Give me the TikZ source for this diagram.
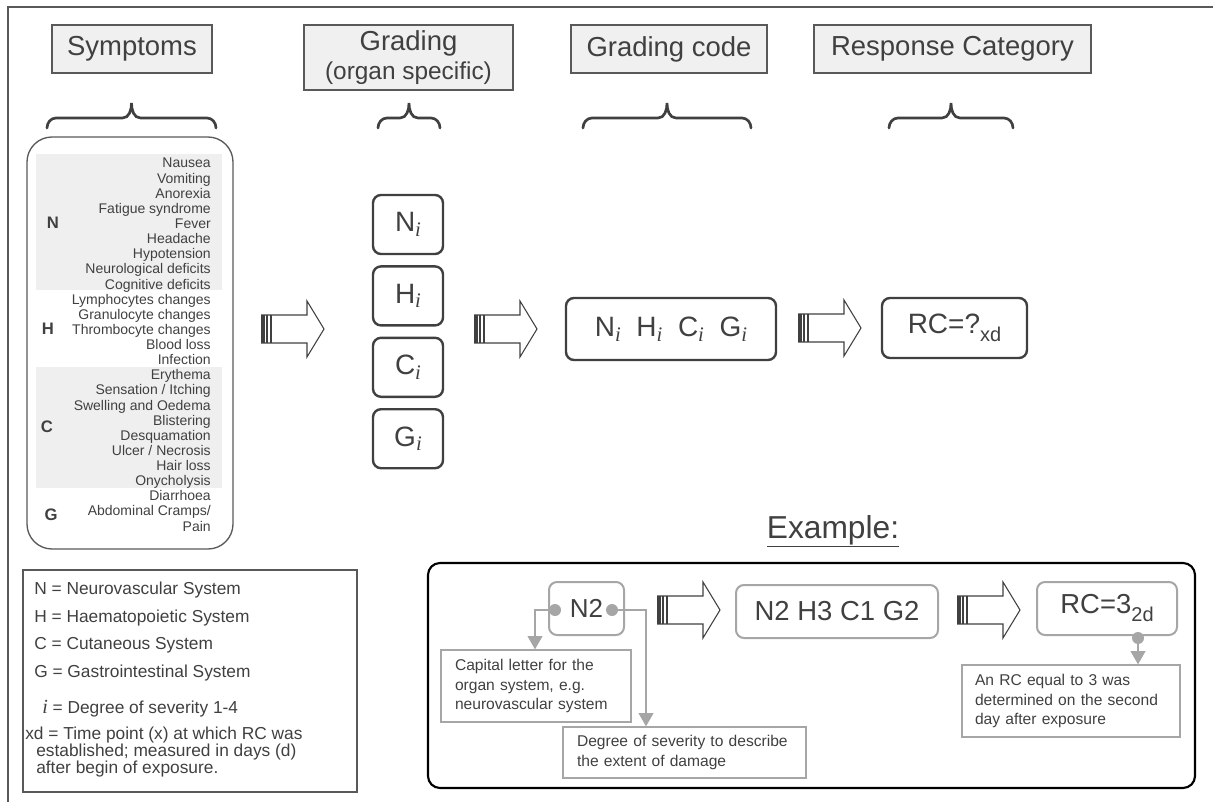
\documentclass[tikz,border=0pt]{standalone}
\usepackage{fontspec}
\setmainfont{Liberation Sans}
\newfontfamily\serifit{Liberation Serif}
\usetikzlibrary{positioning}
\usetikzlibrary{arrows.meta}

\definecolor{ink}{HTML}{404040}
\definecolor{framegray}{HTML}{595959}
\definecolor{headfill}{HTML}{F0F0F0}
\definecolor{bandfill}{HTML}{EFEFEF}
\definecolor{exgray}{HTML}{A6A6A6}

\newcommand{\subtxt}[1]{\raisebox{-6pt}{\fontsize{15}{15}\selectfont #1}}
\newcommand{\subi}{\raisebox{-3.5pt}{\fontsize{15.5}{15.5}\selectfont\serifit\itshape i}}

\begin{document}
\begin{tikzpicture}[x=0.75pt,y=0.75pt,
    every node/.style={text=ink},
    headbox/.style={draw=framegray, fill=headfill, line width=1pt, inner sep=0,
      font=\fontsize{20.6}{21.75}\selectfont},
    gradebox/.style={draw=ink, line width=1.8pt, rounded corners=6pt, inner sep=0,
      minimum width=52.5pt, minimum height=44.25pt, font=\fontsize{21}{24}\selectfont},
    codebox/.style={draw=ink, line width=1.8pt, rounded corners=6pt, inner sep=0,
      font=\fontsize{21}{24}\selectfont},
    symtxt/.style={anchor=base east, inner sep=0, font=\fontsize{10.5}{12}\selectfont},
    grp/.style={inner sep=0, font=\bfseries\fontsize{12.5}{14}\selectfont},
    legtxt/.style={anchor=base west, inner sep=0, font=\fontsize{13}{15}\selectfont},
    exbox/.style={draw=exgray, line width=1.5pt, rounded corners=6pt, inner sep=0,
      font=\fontsize{20.6}{24}\selectfont},
    note/.style={draw=exgray, line width=0.9pt, align=left, inner ysep=0,
      font=\fontsize{11.7}{14.6}\selectfont},
    dot/.style={circle, fill=exgray, inner sep=0, minimum size=9pt},
    callout/.style={draw=exgray, line width=1.5pt, -{Triangle[width=11pt,length=10pt]}},
    curlybrace/.style={draw=ink, line width=2pt, line cap=round},
    blockarr/.pic={
      \fill[ink] (0,-14) rectangle (3.5,14);
      \fill[ink] (5,-14) rectangle (7,14);
      \fill[ink] (9,-14) rectangle (10.5,14);
      \draw[ink, line width=0.8pt, line join=miter]
        (0,14) -- (46,14) -- (46,28) -- (63,0) -- (46,-28) -- (46,-14) -- (0,-14);
    }]
    \useasboundingbox (0,0) rectangle (1213,-802);
    \draw[framegray, line width=1pt] (8,-802) -- (8,-7) -- (1213,-7);

    \node[headbox, minimum width=120pt, minimum height=36pt] (hsym) at (132,-49) {Symptoms};
    \node[headbox, minimum width=156.75pt, minimum height=48.75pt, align=center] (hgrad)
      at (408.5,-57.5) {Grading\\{\fontsize{18.3}{21.75}\selectfont (organ specific)}};
    \node[headbox, minimum width=147pt, minimum height=36pt] (hcode) at (669,-49) {Grading code};
    \node[headbox, minimum width=207.75pt, minimum height=36pt] (hcat) at (952.5,-49) {Response Category};

    \foreach \a/\b in {47/216, 378/440, 583/751, 889/1013} {
      \pgfmathsetmacro{\m}{(\a+\b)/2}
      \draw[curlybrace] (\a,-128) to[out=90,in=180] (\a+9,-118) -- (\m-9,-118)
        to[out=0,in=-90] (\m,-103) to[out=-90,in=180] (\m+9,-118)
        -- (\b-9,-118) to[out=0,in=90] (\b,-128);
    }

    \node[draw=framegray, line width=1pt, rounded corners=18.75pt, inner sep=0,
      minimum width=154.5pt, minimum height=309pt] (symlist) at (130,-343) {};
    \fill[bandfill] (36,-154) rectangle (222,-290);
    \fill[bandfill] (36,-367) rectangle (222,-488);
    \foreach \s [count=\k from 0] in {Nausea,Vomiting,Anorexia,Fatigue syndrome,Fever,
        Headache,Hypotension,Neurological deficits,Cognitive deficits,Lymphocytes changes,
        Granulocyte changes,Thrombocyte changes,Blood loss,Infection,Erythema,
        Sensation / Itching,Swelling and Oedema,Blistering,Desquamation,Ulcer / Necrosis,
        Hair loss,Onycholysis,Diarrhoea,Abdominal Cramps/,Pain}
      \node[symtxt] (sym\k) at (211,{-168-15.125*\k}) {\s};
    \node[grp] (lblN) at (53,-223) {N};
    \node[grp] (lblH) at (48,-329) {H};
    \node[grp] (lblC) at (47,-427) {C};
    \node[grp] (lblG) at (51,-515) {G};

    \pic at (261,-329) {blockarr};
    \node[gradebox] (gN) at (408,-224.5) {N\subi};
    \node[gradebox, below=7.5pt of gN] (gH) {H\subi};
    \node[gradebox, below=7.5pt of gH] (gC) {C\subi};
    \node[gradebox, below=7.5pt of gC] (gG) {G\subi};
    \pic at (474,-329) {blockarr};
    \node[codebox, minimum width=157.5pt, minimum height=46.5pt] (code)
      at (671,-329) {N\subi\ \ H\subi\ \ C\subi\ \ G\subi};
    \pic at (798,-328) {blockarr};
    \node[codebox, minimum width=108.75pt, minimum height=45pt] (rc)
      at (954.5,-328) {RC=?\subtxt{xd}};

    \node[draw=framegray, line width=1pt, inner sep=0, minimum width=250.5pt,
      minimum height=166.5pt] (legend) at (190,-681) {};
    \node[legtxt] (lgN) at (34,-594) {N = Neurovascular System};
    \node[legtxt] (lgH) at (34,-622) {H = Haematopoietic System};
    \node[legtxt] (lgC) at (34,-649) {C = Cutaneous System};
    \node[legtxt] (lgG) at (34,-677) {G = Gastrointestinal System};
    \node[legtxt] (lgi) at (42,-713) {{\serifit\itshape\fontsize{15}{15}\selectfont i} = Degree of severity 1-4};
    \node[legtxt] (lgx) at (25,-739) {xd = Time point (x) at which RC was};
    \node[legtxt] (lgx2) at (36,-756) {established; measured in days (d)};
    \node[legtxt] (lgx3) at (36,-773) {after begin of exposure.};

    \node[anchor=base, inner sep=0, font=\fontsize{23.8}{26}\selectfont] (extitle)
      at (833,-538) {\underline{Example:}};
    \node[draw=black, line width=1.6pt, rounded corners=9pt, inner sep=0,
      minimum width=575.25pt, minimum height=168.75pt] (exframe) at (811.5,-675.5) {};
    \node[exbox, minimum width=56.25pt, minimum height=39.75pt,
      font=\fontsize{19.5}{22}\selectfont] (exN) at (586.5,-608.5) {N2};
    \node[dot] (ldot) at (555,-610) {};
    \node[dot] (rdot) at (612,-610) {};
    \pic at (657,-610) {blockarr};
    \node[exbox, minimum width=151.5pt, minimum height=39.75pt] (excode)
      at (837,-611.5) {N2 H3 C1 G2};
    \pic at (957,-610) {blockarr};
    \node[exbox, minimum width=105pt, minimum height=39.75pt] (exrc)
      at (1107,-608.5) {RC=3\subtxt{2d}};
    \node[dot] (rcdot) at (1138,-638) {};

    \node[note, text width=121.5pt, inner xsep=10.5pt, minimum height=54pt] (capnote)
      at (536,-686) {Capital letter for the\\organ system, e.g.\\neurovascular system};
    \node[note, text width=161.25pt, inner xsep=10.5pt, minimum height=38.25pt] (degnote)
      at (684.5,-752.5) {Degree of severity to describe\\the extent of damage};
    \node[note, text width=144pt, inner xsep=9.75pt, minimum height=54pt] (rcnote)
      at (1071,-701) {An RC equal to 3 was\\determined on the second\\day after exposure};

    \coordinate (lturn) at (535,-610);
    \coordinate (rturn) at (646,-610);
    \draw[callout] (ldot.center) -- (lturn) -- (lturn |- capnote.north);
    \draw[callout] (rdot.center) -- (rturn) -- (rturn |- degnote.north);
    \draw[callout] (rcdot.center) -- (rcdot |- rcnote.north);
\end{tikzpicture}
\end{document}
